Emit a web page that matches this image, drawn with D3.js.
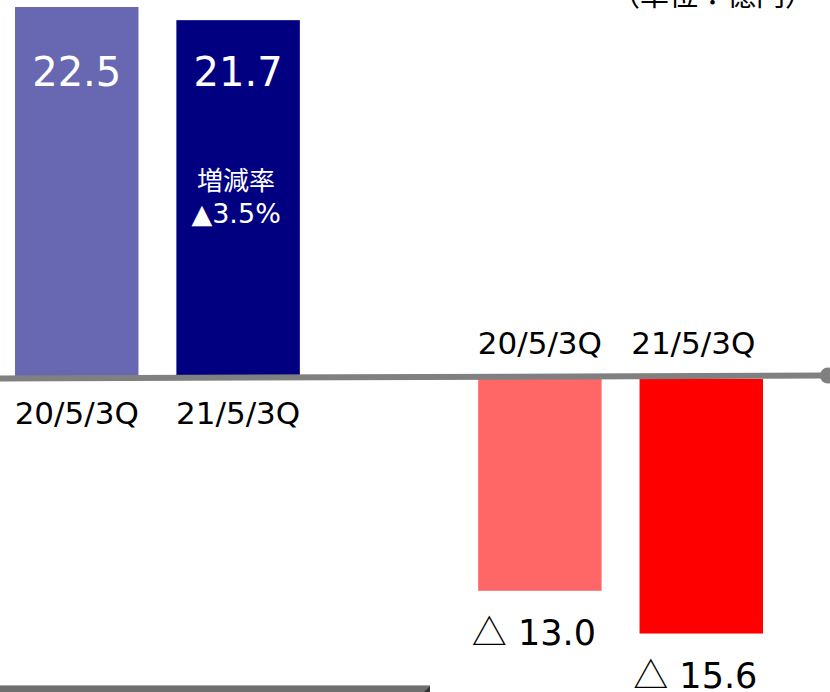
<!DOCTYPE html>
<html>
<head>
<meta charset="utf-8">
<script src="https://cdn.jsdelivr.net/npm/d3@7"></script>
<style>
  body { margin: 0; background: #fff; }
  svg { display: block; }
</style>
</head>
<body>
<svg width="830" height="692"></svg>
<script>
// dados do gráfico
const groups = ["売上高", "営業利益"];
const periods = ["20/5/3Q", "21/5/3Q"];
const salesValues = [22.5, 21.7];
const profitValues = [-13.0, -15.6];
const barColors = [["#6868b2", "#000080"], ["#ff6666", "#ff0000"]];
const rateTitle = "増減率";
const rateText = "▲3.5%";
const unitText = "（単位：億円）";

const width = 830;
const height = 692;
const latin = "'DejaVu Sans', Verdana, sans-serif";
const cjk = "'Noto Sans CJK JP', sans-serif";

const svg = d3.select("svg");

// escalas
const x0 = d3.scaleBand().domain(groups).range([15, 763]).paddingInner(0.385);
const x1 = d3.scaleBand().domain(periods).range([0, x0.bandwidth()]).paddingInner(0.235);
const y = d3.scaleLinear().domain([0, 22.5]).range([377, 7]);

const data = [];
groups.forEach((g, gi) => {
    const vals = gi === 0 ? salesValues : profitValues;
    periods.forEach((p, pi) => {
        data.push({ group: g, period: p, value: vals[pi], color: barColors[gi][pi] });
    });
});

const cx = d => x0(d.group) + x1(d.period) + x1.bandwidth() / 2;

// barras
svg.selectAll(".bar")
    .data(data)
    .enter().append("rect")
    .attr("class", "bar")
    .attr("x", d => x0(d.group) + x1(d.period))
    .attr("width", x1.bandwidth())
    .attr("y", d => d.value >= 0 ? y(d.value) : y(0) + 2)
    .attr("height", d => d.value >= 0 ? y(0) - y(d.value) + 3 : y(d.value) - y(0) - 2)
    .attr("fill", d => d.color);

// linha do zero
svg.append("line")
    .attr("x1", 0).attr("x2", 824)
    .attr("y1", y(0) + 1.5).attr("y2", y(0) - 1.5)
    .attr("stroke", "#808080")
    .attr("stroke-width", 6);
svg.append("circle")
    .attr("cx", 828).attr("cy", y(0) - 1.5)
    .attr("r", 8)
    .attr("fill", "#808080");

// rótulos de valor
const topBase = y(d3.max(salesValues)) + 79;
const valLabels = svg.selectAll(".val")
    .data(data)
    .enter().append("text")
    .attr("class", "val")
    .attr("x", d => d.value >= 0 ? cx(d) : cx(d) - 6)
    .attr("y", d => d.value >= 0 ? topBase : y(d.value) + 54)
    .attr("text-anchor", "middle")
    .attr("font-family", latin)
    .attr("font-size", d => d.value >= 0 ? 40 : 35)
    .attr("fill", d => d.value >= 0 ? "#fff" : "#000");

valLabels.filter(d => d.value < 0).append("tspan")
    .attr("font-family", cjk)
    .text("△");
valLabels.append("tspan")
    .text(d => d.value >= 0 ? d.value.toFixed(1) : " " + Math.abs(d.value).toFixed(1));

// rótulos das categorias
svg.selectAll(".cat")
    .data(data)
    .enter().append("text")
    .attr("class", "cat")
    .attr("x", d => cx(d) - (d.value < 0 && d.period === periods[1] ? 8 : 0))
    .attr("y", d => d.value >= 0 ? y(0) + 47 : y(0) - 23)
    .attr("text-anchor", "middle")
    .attr("font-family", latin)
    .attr("font-size", 31)
    .attr("fill", "#000")
    .text(d => d.period);

// taxa de variação
const rateX = cx(data[1]) - 2;
svg.append("text")
    .attr("x", rateX).attr("y", 190)
    .attr("text-anchor", "middle")
    .attr("font-family", cjk)
    .attr("font-size", 26)
    .attr("fill", "#fff")
    .text(rateTitle);
svg.append("text")
    .attr("x", rateX).attr("y", 223)
    .attr("text-anchor", "middle")
    .attr("font-family", latin)
    .attr("font-size", 27)
    .attr("fill", "#fff")
    .text(rateText);

// unidade (cortada no topo)
svg.append("text")
    .attr("x", 814).attr("y", 6)
    .attr("text-anchor", "end")
    .attr("font-family", cjk)
    .attr("font-size", 29)
    .attr("fill", "#000")
    .text(unitText);

// barra cinza no rodapé
svg.append("rect")
    .attr("x", 0).attr("y", 685)
    .attr("width", 430).attr("height", 7)
    .attr("fill", "#6f6f6f");
svg.append("line")
    .attr("x1", 0).attr("x2", 430)
    .attr("y1", 685.5).attr("y2", 685.5)
    .attr("stroke", "#a8a8a8");
svg.append("path")
    .attr("d", "M430,686 L430,692 L424,692 Z")
    .attr("fill", "#333");
</script>
</body>
</html>
